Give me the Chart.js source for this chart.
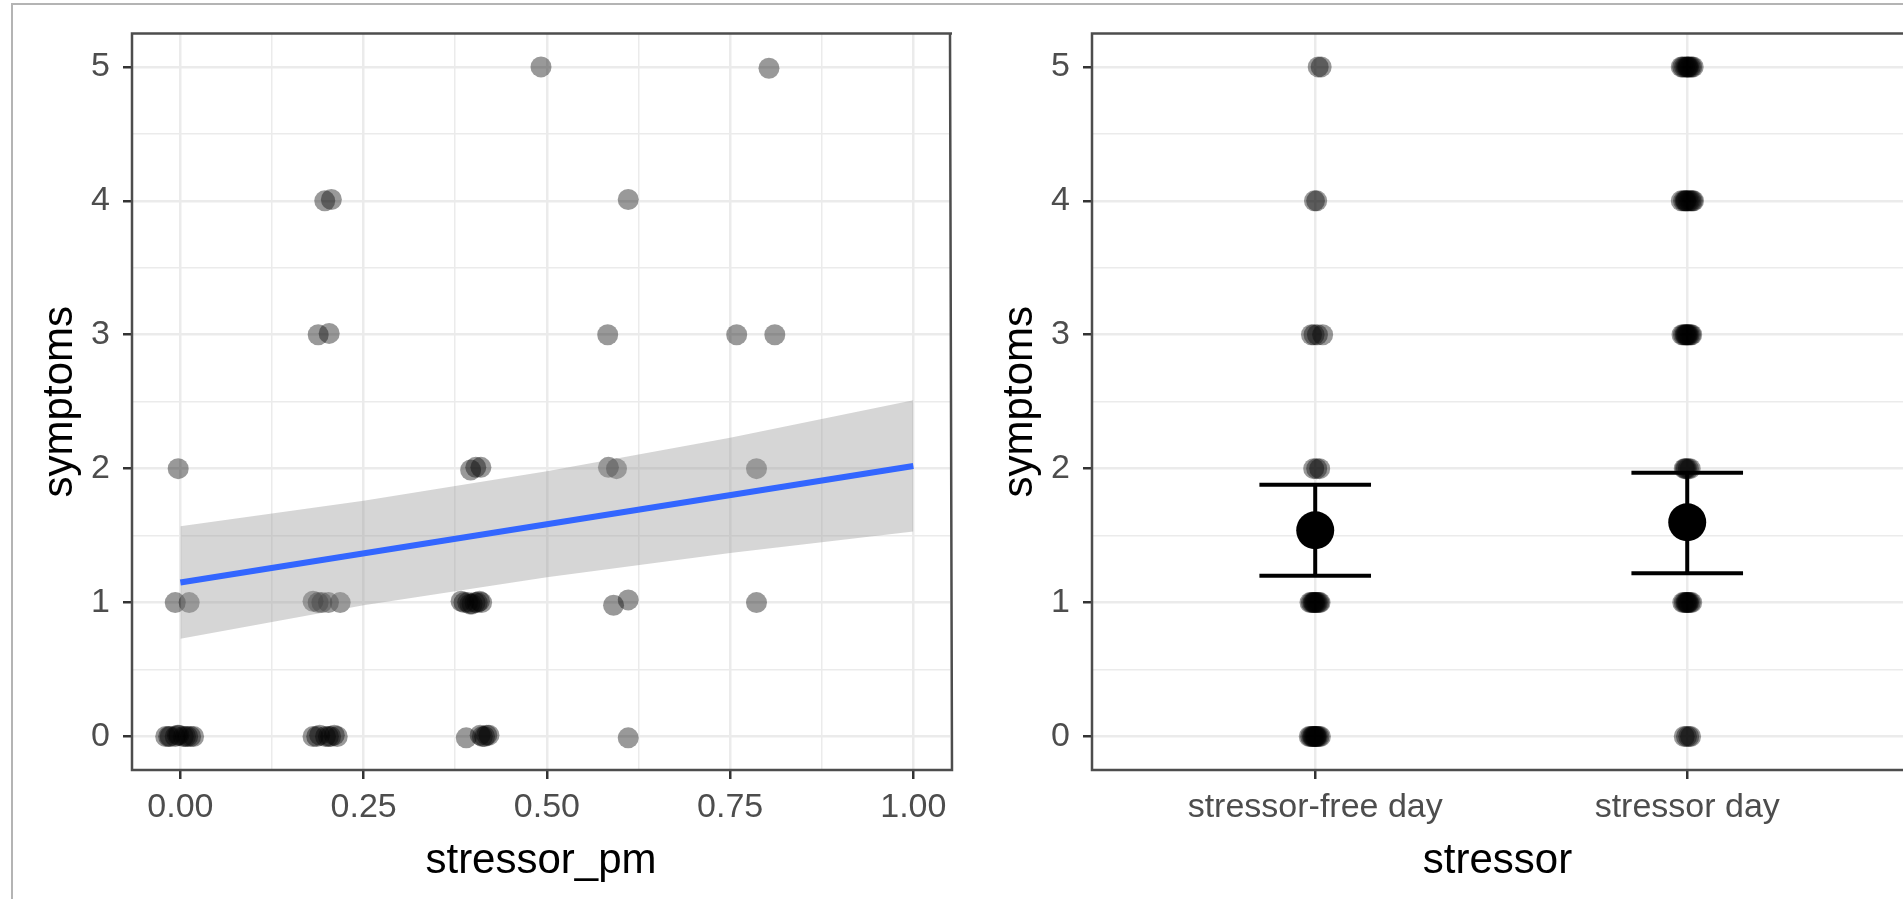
<!DOCTYPE html>
<html>
<head>
<meta charset="utf-8">
<title>symptoms vs stressor</title>
<script src="https://cdn.jsdelivr.net/npm/chart.js@4.4.1/dist/chart.umd.min.js"></script>
<style>
  html, body { margin: 0; padding: 0; background: #fff; width: 1903px; height: 899px; overflow: hidden; }
  #frame { position: absolute; left: 11px; top: 3px; width: 1890px; height: 894px;
           border-top: 2px solid #b4b4b4; border-left: 2px solid #b4b4b4; }
  .panel { position: absolute; top: 0; height: 899px; }
</style>
</head>
<body>
<div id="frame"></div>
<div class="panel" style="left:0;width:960px"><canvas id="pmChart" width="960" height="899" style="width:960px;height:899px"></canvas></div>
<div class="panel" style="left:960px;width:943px"><canvas id="dayChart" width="943" height="899" style="width:943px;height:899px"></canvas></div>
<script>
// --- left panel: symptoms against stressor_pm (jittered points)
var pmX = [0.492, 0.803,
           0.197, 0.206, 0.611,
           0.188, 0.203, 0.583, 0.759, 0.811,
           -0.003, 0.396, 0.403, 0.410, 0.584, 0.595, 0.786,
           -0.007, 0.012, 0.181, 0.188, 0.193, 0.202, 0.218,
           0.383, 0.387, 0.392, 0.395, 0.398, 0.402, 0.405, 0.408, 0.411, 0.591, 0.611, 0.786,
           -0.020, -0.016, -0.014, -0.007, -0.004, -0.002, 0.004, 0.007, 0.010, 0.014, 0.018,
           0.181, 0.186, 0.190, 0.198, 0.202, 0.205, 0.210, 0.214,
           0.390, 0.409, 0.412, 0.415, 0.418, 0.421, 0.611];
var pmY = [5.00, 4.99,
           4.00, 4.01, 4.01,
           3.00, 3.01, 3.00, 3.00, 3.00,
           2.00, 1.99, 2.01, 2.01, 2.01, 2.00, 2.00,
           1.00, 1.00, 1.01, 1.00, 1.00, 1.00, 1.00,
           1.01, 1.00, 1.00, 0.99, 0.99, 1.00, 1.00, 1.01, 1.00, 0.98, 1.02, 1.00,
           0.00, 0.00, 0.00, 0.00, 0.01, 0.01, 0.00, 0.00, 0.00, 0.00, 0.00,
           0.00, 0.00, 0.01, 0.00, 0.00, 0.00, 0.01, 0.00,
           -0.01, 0.01, 0.00, 0.00, 0.01, 0.01, -0.01];

// linear fit and its confidence band
var fitX = [0, 1];
var fitY = [1.15, 2.02];
var bandX = [0, 0.25, 0.5, 0.75, 1];
var bandUpper = [1.57, 1.76, 1.98, 2.23, 2.51];
var bandLower = [0.73, 0.98, 1.19, 1.37, 1.53];

// --- right panel: symptoms by stressor (jittered around category 1 / 2)
var stressorCats = ['stressor-free day', 'stressor day'];
var dayX = [1.008, 1.016,                                                   // 5
            0.998, 1.004,                                                   // 4
            0.990, 0.997, 1.006, 1.020,                                     // 3
            0.996, 1.004, 1.012,                                            // 2
            0.986, 0.990, 0.994, 0.998, 1.000, 1.003, 1.006, 1.010, 1.013, 0.996,           // 1
            0.984, 0.988, 0.992, 0.996, 1.000, 1.003, 1.006, 1.010, 1.014, 0.994, 0.998, 1.002, // 0
            1.984, 1.988, 1.993, 1.997, 2.000, 2.004, 2.008, 2.012, 2.016, 2.002,           // 5
            1.984, 1.990, 1.994, 1.998, 2.002, 2.006, 2.010, 2.014, 2.017, 1.996,           // 4
            1.986, 1.990, 1.994, 1.998, 2.002, 2.005, 2.009, 2.012, 1.996, 2.000,           // 3
            1.992, 1.998, 2.003, 2.008, 1.995,                                              // 2
            1.988, 1.992, 1.996, 2.000, 2.004, 2.008, 2.012, 1.998, 2.002,                  // 1
            1.992, 1.998, 2.004, 2.009];                                                    // 0
var dayY = [5, 5,
            4, 4,
            3, 3, 3, 3,
            2, 2, 2,
            1, 1, 1, 1, 1, 1, 1, 1, 1, 1,
            0, 0, 0, 0, 0, 0, 0, 0, 0, 0, 0, 0,
            5, 5, 5, 5, 5, 5, 5, 5, 5, 5,
            4, 4, 4, 4, 4, 4, 4, 4, 4, 4,
            3, 3, 3, 3, 3, 3, 3, 3, 3, 3,
            2, 2, 2, 2, 2,
            1, 1, 1, 1, 1, 1, 1, 1, 1,
            0, 0, 0, 0];

// means with error bars
var stressorMeans = [1.54, 1.60];
var ciLow = [1.20, 1.22];
var ciHigh = [1.88, 1.97];

// tick values
var yMajor = [0, 1, 2, 3, 4, 5];
var yMinor = [0.5, 1.5, 2.5, 3.5, 4.5];
var pmMajor = [0, 0.25, 0.5, 0.75, 1];
var pmMinor = [0.125, 0.375, 0.625, 0.875];
var dayMajor = [1, 2];

var FONT = "'Liberation Sans', Arial, Helvetica, sans-serif";
var capHalf = 0.15;

function pts(xs, ys) {
    return xs.map(function(x, i) { return {x: x, y: ys[i]}; });
}

// ggplot-like axis: major + minor grid lines, dark tick marks on majors only
function axis(o) {
    var all = o.majors.concat(o.minors).sort(function(a, b) { return a - b; });
    var isMajor = function(v) { return o.majors.indexOf(v) >= 0; };
    return {
        type: 'linear',
        min: o.min,
        max: o.max,
        afterBuildTicks: function(s) { s.ticks = all.map(function(v) { return {value: v}; }); },
        afterFit: function(s) {
            if (o.width) s.width = o.width;
            if (o.height) s.height = o.height;
        },
        border: { display: false },
        grid: {
            color: '#ebebeb',
            lineWidth: function(c) { return c.tick && isMajor(c.tick.value) ? 2.5 : 1.5; },
            tickColor: function(c) { return c.tick && isMajor(c.tick.value) ? '#333333' : 'rgba(0,0,0,0)'; },
            tickLength: 9,
            tickWidth: 2.5
        },
        ticks: {
            autoSkip: false,
            maxRotation: 0,
            padding: o.pad,
            color: '#4d4d4d',
            font: { family: FONT, size: 34 },
            callback: function(v) { return isMajor(v) ? o.fmt(v) : ''; }
        },
        title: {
            display: true,
            text: o.title,
            color: '#000',
            font: { family: FONT, size: 42 },
            padding: o.titlePad
        }
    };
}

// panel border drawn over the data, like ggplot's panel.border
var panelBorder = {
    id: 'panelBorder',
    afterDatasetsDraw: function(chart, args, opts) {
        var a = chart.chartArea, ctx = chart.ctx;
        ctx.save();
        ctx.strokeStyle = '#4d4d4d';
        ctx.lineWidth = 2.5;
        ctx.beginPath();
        ctx.moveTo(a.right + 2, a.top);
        ctx.lineTo(a.left, a.top);
        ctx.lineTo(a.left, a.bottom);
        ctx.lineTo(a.right + 2, a.bottom);
        if (opts.right !== false) ctx.lineTo(a.right, a.top);
        ctx.stroke();
        ctx.restore();
    }
};

function baseOptions(padRight, borderRight) {
    return {
        responsive: false,
        animation: false,
        // no auto padding: the plot area must sit exactly where the reference has it
        layout: { autoPadding: false, padding: { top: 28, right: padRight, left: 0, bottom: 0 } },
        plugins: {
            legend: { display: false },
            tooltip: { enabled: false },
            panelBorder: { right: borderRight }
        }
    };
}

function yAxis() {
    return axis({ min: -0.25, max: 5.25, majors: yMajor, minors: yMinor, width: 132, pad: 13,
                  fmt: function(v) { return String(v); }, title: 'symptoms', titlePad: { top: 35, bottom: 0 } });
}

// left chart
var pmOpts = baseOptions(10, true);
pmOpts.scales = {
    x: axis({ min: -0.066, max: 1.05, majors: pmMajor, minors: pmMinor, height: 129, pad: 8,
              fmt: function(v) { return v.toFixed(2); }, title: 'stressor_pm', titlePad: { top: 0, bottom: 12 } }),
    y: yAxis()
};
new Chart(document.getElementById('pmChart'), {
    type: 'scatter',
    data: {
        datasets: [
            { type: 'line', data: pts(fitX, fitY), borderColor: '#3366FF', borderWidth: 6,
              pointRadius: 0, showLine: true, order: 0 },
            { type: 'line', data: pts(bandX, bandUpper), borderWidth: 0, pointRadius: 0, showLine: true,
              fill: '+1', backgroundColor: 'rgba(153,153,153,0.4)', order: 1 },
            { type: 'line', data: pts(bandX, bandLower), borderWidth: 0, pointRadius: 0, showLine: true,
              fill: false, order: 1 },
            { data: pts(pmX, pmY), backgroundColor: 'rgba(0,0,0,0.4)', borderWidth: 0,
              pointRadius: 10.5, order: 2 }
        ]
    },
    options: pmOpts,
    plugins: [panelBorder]
});

// right chart: the panel runs past the picture's right edge, so x stops at 2.58
var errorBars = [];
stressorCats.forEach(function(c, i) {
    var x = i + 1;
    [[{x: x, y: ciLow[i]}, {x: x, y: ciHigh[i]}],
     [{x: x - capHalf, y: ciHigh[i]}, {x: x + capHalf, y: ciHigh[i]}],
     [{x: x - capHalf, y: ciLow[i]}, {x: x + capHalf, y: ciLow[i]}]].forEach(function(seg) {
        errorBars.push({ type: 'line', data: seg, borderColor: '#000', borderWidth: 4,
                         pointRadius: 0, showLine: true, order: 1 });
    });
});

var dayOpts = baseOptions(0, false);
dayOpts.scales = {
    x: axis({ min: 0.4, max: 2.58, majors: dayMajor, minors: [], height: 129, pad: 8,
              fmt: function(v) { return stressorCats[v - 1]; }, title: 'stressor', titlePad: { top: 0, bottom: 12 } }),
    y: yAxis()
};
new Chart(document.getElementById('dayChart'), {
    type: 'scatter',
    data: {
        datasets: [
            { data: pts([1, 2], stressorMeans), backgroundColor: '#000', borderWidth: 0,
              pointRadius: 19, order: 0 }
        ].concat(errorBars).concat([
            { data: pts(dayX, dayY), backgroundColor: 'rgba(0,0,0,0.4)', borderWidth: 0,
              pointRadius: 10.5, order: 2 }
        ])
    },
    options: dayOpts,
    plugins: [panelBorder]
});
</script>
</body>
</html>
